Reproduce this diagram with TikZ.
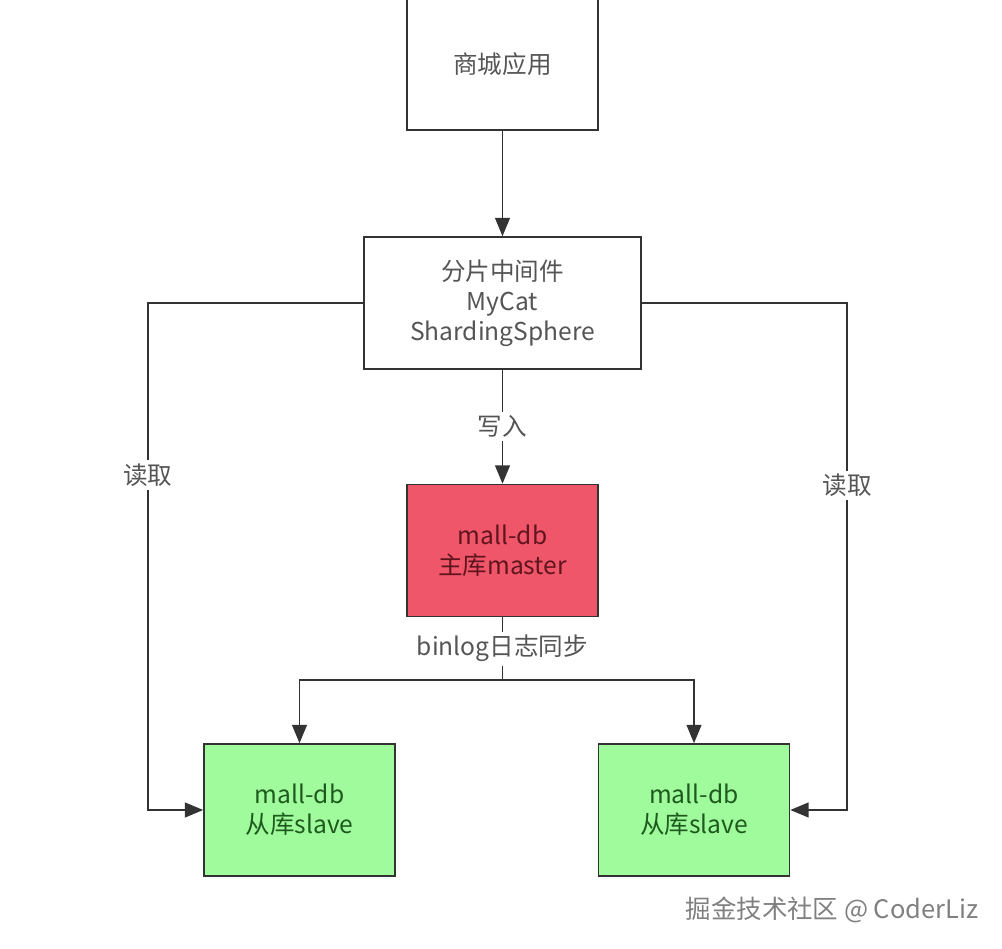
\documentclass[tikz,border=0pt]{standalone}
\usepackage{fontspec}
\setmainfont{Noto Sans CJK SC}
\usetikzlibrary{
    arrows.meta
}
\definecolor{LineGray}{RGB}{51,51,51}
\definecolor{TextGray}{RGB}{85,85,85}
\definecolor{MasterRed}{RGB}{240,86,106}
\definecolor{MasterText}{RGB}{95,20,30}
\definecolor{SlaveGreen}{RGB}{160,251,156}
\definecolor{SlaveText}{RGB}{30,90,30}

\begin{document}
\begin{tikzpicture}[
    x=0.02cm,
    y=-0.02cm,
    >={Triangle[length=10.5pt,width=8.5pt]},
    box/.style={draw=LineGray, line width=0.9pt, align=center,
        minimum width=3.82cm, minimum height=2.64cm, inner sep=0pt,
        text=TextGray, font=\fontsize{14}{17}\selectfont},
    link/.style={draw=LineGray, line width=0.9pt},
    lbl/.style={fill=white, text=TextGray, inner sep=2pt,
        font=\fontsize{14}{17}\selectfont}
]

\useasboundingbox (0,0) rectangle (1002,949);

\node[box] (app) at (502.5,64) {商城应用};

\node[box, minimum width=5.54cm] (mid) at (502.5,303)
    {分片中间件\\MyCat\\ShardingSphere};

\node[box, fill=MasterRed, text=MasterText] (master) at (502.5,550.5)
    {mall-db\\主库master};

\node[box, fill=SlaveGreen, text=SlaveText] (slaveL) at (299.5,810)
    {mall-db\\从库slave};

\node[box, fill=SlaveGreen, text=SlaveText] (slaveR) at (694,810)
    {mall-db\\从库slave};

\coordinate (lbend) at (148,303);
\coordinate (rbend) at (847,303);
\coordinate (split) at (502.5,680);

\draw[link, ->]
    (app) -- (mid);

\draw[link, ->]
    (mid) -- node[lbl] {写入} (master);

\draw[link]
    (master) -- node[lbl] {binlog日志同步} (split);

\draw[link, ->]
    (split) -| (slaveL.north);

\draw[link, ->]
    (split) -| (slaveR.north);

\draw[link, ->]
    (mid.west) -- (lbend)
    |- node[lbl, pos=0.17] {读取} (slaveL.west);

\draw[link, ->]
    (mid.east) -- (rbend)
    |- node[lbl, pos=0.18] {读取} (slaveR.east);

\node[text=gray, font=\fontsize{14.5}{16}\selectfont] (mark) at (832,910)
    {掘金技术社区 @ CoderLiz};

\end{tikzpicture}
\end{document}
